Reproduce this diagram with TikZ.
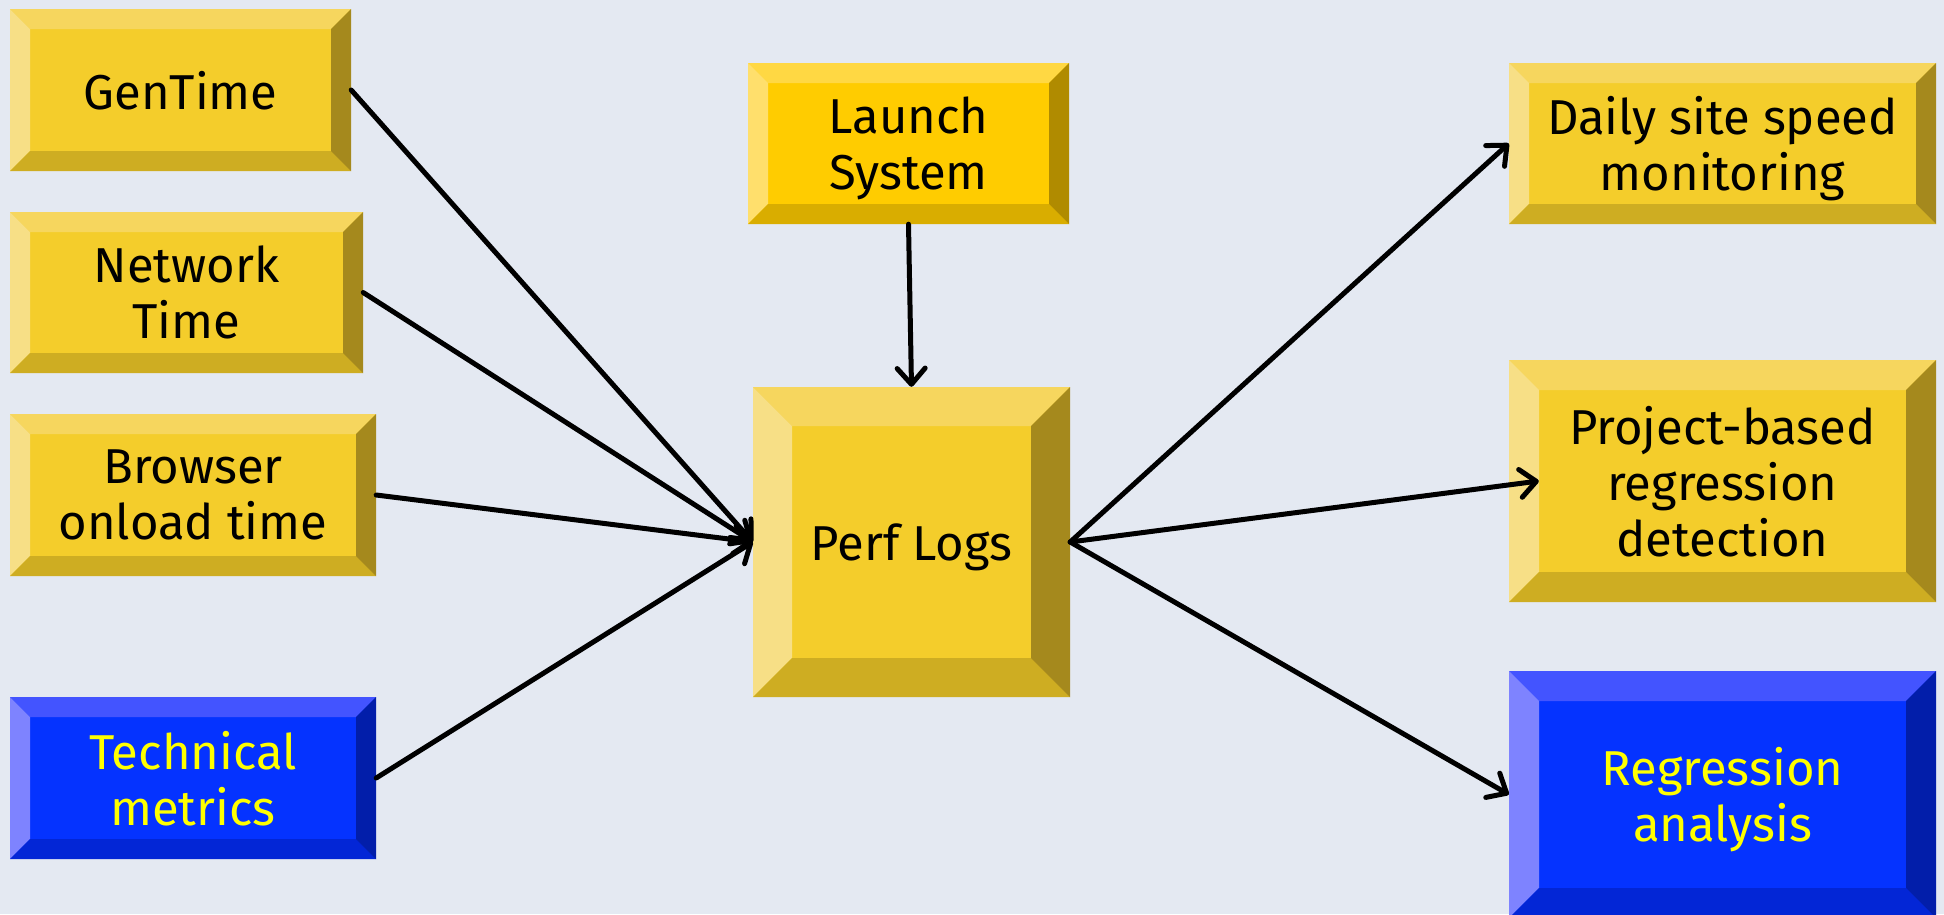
\documentclass[tikz,border=0pt]{standalone}
\usepackage{fontspec}
\setmainfont{Fira Sans}
\usetikzlibrary{arrows.meta}

% palettes: face, top, left, bottom, right
\definecolor{bgcol}{HTML}{E4E9F2}
\definecolor{yFace}{HTML}{F4CD2B}
\definecolor{yTop}{HTML}{F6D65E}
\definecolor{yLeft}{HTML}{F7DF86}
\definecolor{yBot}{HTML}{CEAD22}
\definecolor{yRight}{HTML}{A5891D}
\definecolor{oFace}{HTML}{FFCC00}
\definecolor{oTop}{HTML}{FFD843}
\definecolor{oLeft}{HTML}{FFDF6C}
\definecolor{oBot}{HTML}{D9AD00}
\definecolor{oRight}{HTML}{B08B00}
\definecolor{bFace}{HTML}{0533FF}
\definecolor{bTop}{HTML}{4354FF}
\definecolor{bLeft}{HTML}{7E83FF}
\definecolor{bBot}{HTML}{0326D6}
\definecolor{bRight}{HTML}{021EAA}
\definecolor{txtYellow}{HTML}{FFFF00}

\def\bev{20}
\def\pal{y}

\tikzset{
  bev/.code={\def\bev{#1}},
  pal/.code={\def\pal{#1}},
  bevelbox/.style={
    inner sep=0pt, align=center, text depth=0pt,
    font=\fontsize{49}{56}\selectfont,
    fill=\pal Face,
    path picture={
      \def\pb{path picture bounding box}
      \fill[\pal Top] (\pb.north west) -- (\pb.north east)
        -- ([shift={(-\bev pt,-\bev pt)}]\pb.north east)
        -- ([shift={(\bev pt,-\bev pt)}]\pb.north west) -- cycle;
      \fill[\pal Left] (\pb.north west) -- (\pb.south west)
        -- ([shift={(\bev pt,\bev pt)}]\pb.south west)
        -- ([shift={(\bev pt,-\bev pt)}]\pb.north west) -- cycle;
      \fill[\pal Bot] (\pb.south west) -- (\pb.south east)
        -- ([shift={(-\bev pt,\bev pt)}]\pb.south east)
        -- ([shift={(\bev pt,\bev pt)}]\pb.south west) -- cycle;
      \fill[\pal Right] (\pb.north east) -- (\pb.south east)
        -- ([shift={(-\bev pt,\bev pt)}]\pb.south east)
        -- ([shift={(-\bev pt,-\bev pt)}]\pb.north east) -- cycle;
    }
  },
  ybox/.style={bevelbox, pal=y},
  obox/.style={bevelbox, pal=o},
  bbox/.style={bevelbox, pal=b, text=txtYellow},
  conn/.style={draw=black, line width=5pt, line cap=round,
    -{Straight Barb[length=16pt,width=28pt,line width=5pt,round]}}
}

\begin{document}
\begin{tikzpicture}[x=1pt,y=-1pt]
  \fill[bgcol] (0,0) rectangle (1944,914);
  \useasboundingbox (0,0) rectangle (1944,914);

  % sources
  \node[ybox, bev=20, minimum width=341pt, minimum height=162pt] (gen)  at (180.5,90)  {GenTime};
  \node[ybox, bev=20, minimum width=353pt, minimum height=161pt] (net)  at (186.5,292.5) {Network\\Time};
  \node[ybox, bev=20, minimum width=366pt, minimum height=162pt] (brw)  at (193,495)   {Browser\\onload time};
  \node[bbox, bev=20, minimum width=366pt, minimum height=162pt] (tech) at (193,778)   {Technical\\metrics};

  % centre
  \node[obox, bev=20, minimum width=321pt, minimum height=161pt] (launch) at (908.5,143.5) {Launch\\System};
  \node[ybox, bev=39, minimum width=317pt, minimum height=310pt] (perf)   at (911.5,542)   {Perf Logs};

  % consumers
  \node[ybox, bev=20, minimum width=427pt, minimum height=161pt] (daily) at (1722.5,143.5) {Daily site speed\\monitoring};
  \node[ybox, bev=30, minimum width=427pt, minimum height=242pt] (proj)  at (1722.5,481)   {Project-based\\regression\\detection};
  \node[bbox, bev=30, minimum width=427pt, minimum height=247pt] (reg)   at (1722.5,794.5) {Regression\\analysis};

  % connectors
  \draw[conn] (gen.east)  -- (perf.west);
  \draw[conn] (net.east)  -- (perf.west);
  \draw[conn] (brw.east)  -- (perf.west);
  \draw[conn] (tech.east) -- (perf.west);
  \draw[conn] (launch.south) -- (perf.north);
  \draw[conn] (perf.east) -- (daily.west);
  \draw[conn] (perf.east) -- ([xshift=30pt]proj.west);
  \draw[conn] (perf.east) -- (reg.west);
\end{tikzpicture}
\end{document}
